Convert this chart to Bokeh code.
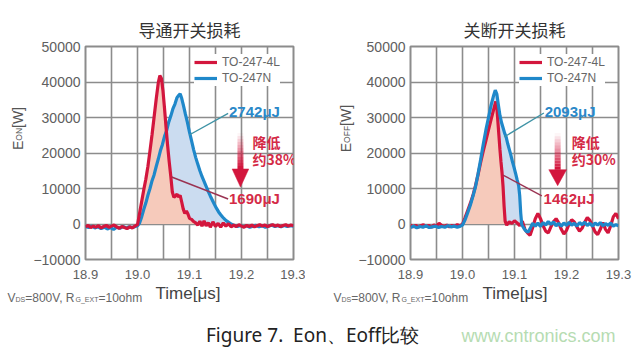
import numpy as np
from math import pi
from bokeh.plotting import figure
from bokeh.models import Range1d, FixedTicker, Legend, LegendItem, Label
from bokeh.layouts import column, row
from bokeh.embed import file_html
from bokeh.resources import INLINE

# ---------------- data ----------------
x_ticks = [18.9, 19.0, 19.1, 19.2, 19.3]
x_tick_labels = ["18.9", "19.0", "19.1", "19.2", "19.3"]
x_grid = [18.9, 18.95, 19.0, 19.05, 19.1, 19.15, 19.2, 19.25, 19.3]
y_ticks = [-10000, 0, 10000, 20000, 30000, 40000, 50000]
y_tick_labels = ["\u221210000", "0", "10000", "20000", "30000", "40000", "50000"]

series_names = ["TO-247-4L", "TO-247N"]

# turn-on, TO-247-4L
on_4l_t = [18.900, 18.905, 18.910, 18.915, 18.920, 18.925, 18.930, 18.935, 18.940, 18.945,
           18.950, 18.955, 18.960, 18.965, 18.970, 18.975, 18.980, 18.985, 18.990, 18.995,
           19.000, 19.004, 19.008, 19.012, 19.016, 19.020, 19.024, 19.028, 19.032, 19.036,
           19.040, 19.043, 19.046, 19.049, 19.052, 19.055, 19.058, 19.061, 19.064, 19.067,
           19.070, 19.073, 19.076, 19.079, 19.082, 19.085, 19.088, 19.091, 19.094, 19.097,
           19.100, 19.104, 19.108, 19.112, 19.116, 19.120, 19.124, 19.128, 19.132, 19.136,
           19.140, 19.145, 19.150, 19.155, 19.160, 19.165, 19.170, 19.175, 19.180, 19.185,
           19.190, 19.195, 19.200, 19.205, 19.210, 19.215, 19.220, 19.225, 19.230, 19.235,
           19.240, 19.245, 19.250, 19.255, 19.260, 19.265, 19.270, 19.275, 19.280, 19.285,
           19.290, 19.295, 19.300]
on_4l_e = [-800, -400, -1000, -600, -900, -500, -1100, -700, -400, -900,
           -600, -300, -800, -1200, -700, -1000, -1300, -800, -1100, -600,
           -200, 3000, 6300, 9600, 12600, 16200, 20600, 25200, 30200, 35200,
           39800, 41800, 41000, 37500, 32500, 27000, 22000, 17500, 13500, 9000,
           7500, 7900, 8400, 7600, 8100, 6200, 4200, 3000, 3700, 2800,
           1600, 1300, 700, 300, -300, 800, -600, 900, -500, 400,
           -900, 600, -700, 200, -900, 300, -600, 100, -800, -300,
           -700, -200, -600, -900, -400, -700, -300, -800, -500, -200,
           -600, -300, -700, -400, -200, -600, -300, -700, -400, -200,
           -600, -300, -500]

# turn-on, TO-247N
on_n_t = [18.900, 18.906, 18.912, 18.918, 18.924, 18.930, 18.936, 18.942, 18.948, 18.954,
          18.960, 18.966, 18.972, 18.978, 18.984, 18.990, 18.996, 19.000, 19.004, 19.008,
          19.012, 19.016, 19.020, 19.024, 19.028, 19.032, 19.036, 19.040, 19.044, 19.048,
          19.052, 19.056, 19.060, 19.064, 19.068, 19.072, 19.076, 19.079, 19.082, 19.085,
          19.088, 19.092, 19.096, 19.100, 19.104, 19.108, 19.112, 19.116, 19.120, 19.124,
          19.128, 19.132, 19.136, 19.140, 19.144, 19.148, 19.152, 19.156, 19.160, 19.164,
          19.168, 19.172, 19.176, 19.180, 19.186, 19.192, 19.198, 19.204, 19.210, 19.216,
          19.222, 19.228, 19.234, 19.240, 19.246, 19.252, 19.258, 19.264, 19.270, 19.276,
          19.282, 19.288, 19.294, 19.300]
on_n_e = [-700, -1000, -600, -1100, -800, -1300, -900, -1400, -1000, -1500,
          -900, -1200, -700, -1100, -800, -1000, -700, -500, 300, 2000,
          4100, 5900, 8100, 10000, 12200, 13900, 16200, 18300, 20600, 22400,
          24700, 26300, 28700, 30400, 32400, 33800, 35600, 36200, 36700, 35400,
          33600, 31000, 28600, 25900, 23400, 20900, 18700, 16800, 15000, 13400,
          12000, 10600, 9200, 7900, 6700, 5500, 4400, 3400, 2600, 1900,
          1300, 800, 400, 0, -400, -700, -400, -800, -500, -900,
          -600, -400, -800, -500, -900, -600, -300, -700, -500, -800,
          -400, -700, -500, -600]

# turn-off, TO-247-4L
off_4l_t = [18.900, 18.905, 18.910, 18.915, 18.920, 18.925, 18.930, 18.935, 18.940, 18.945,
            18.950, 18.955, 18.960, 18.965, 18.970, 18.975, 18.980, 18.985, 18.990, 18.995,
            19.000, 19.005, 19.010, 19.015, 19.020, 19.025, 19.030, 19.035, 19.040, 19.045,
            19.050, 19.055, 19.060, 19.064, 19.066, 19.068, 19.070, 19.072, 19.074, 19.076,
            19.078, 19.080, 19.082, 19.085, 19.090, 19.095, 19.100, 19.105, 19.110, 19.115,
            19.120, 19.125, 19.130, 19.135, 19.140, 19.145, 19.150, 19.155, 19.160, 19.165,
            19.170, 19.175, 19.180, 19.185, 19.190, 19.195, 19.200, 19.205, 19.210, 19.215,
            19.220, 19.225, 19.230, 19.235, 19.240, 19.245, 19.250, 19.255, 19.260, 19.265,
            19.270, 19.275, 19.280, 19.285, 19.290, 19.295, 19.300]
off_4l_e = [-300, -800, -400, -900, -500, -200, -700, -400, -900, -300,
            -600, 200, -400, -700, -300, -800, -400, -600, -200, -500,
            0, 1800, 3800, 5800, 8000, 10800, 14000, 17400, 20600, 23500,
            26500, 29500, 32300, 34500, 33000, 29000, 25000, 21000, 17500, 14500,
            10500, 5000, 800, -300, 600, 200, 900, 300, -500, 800,
            -1500, -2500, -3200, -1000, 1500, 3000, 1500, -500, -2000, -2500,
            -800, 600, 1500, 300, -1500, -2800, -1800, 0, 1200, 600,
            -800, -2000, -1200, 500, 1800, 1000, -600, -2200, -3000, -1500,
            400, -1500, -2500, -500, 2000, 3000, 1500]

# turn-off, TO-247N
off_n_t = [18.900, 18.906, 18.912, 18.918, 18.924, 18.930, 18.936, 18.942, 18.948, 18.954,
           18.960, 18.966, 18.972, 18.978, 18.984, 18.990, 18.996, 19.000, 19.005, 19.010,
           19.015, 19.020, 19.025, 19.030, 19.035, 19.040, 19.045, 19.050, 19.055, 19.060,
           19.063, 19.066, 19.069, 19.072, 19.075, 19.078, 19.081, 19.084, 19.087, 19.090,
           19.093, 19.096, 19.099, 19.102, 19.105, 19.108, 19.110, 19.112, 19.114, 19.118,
           19.122, 19.126, 19.130, 19.135, 19.140, 19.145, 19.150, 19.155, 19.160, 19.165,
           19.170, 19.175, 19.180, 19.185, 19.190, 19.195, 19.200, 19.205, 19.210, 19.215,
           19.220, 19.225, 19.230, 19.235, 19.240, 19.245, 19.250, 19.255, 19.260, 19.265,
           19.270, 19.275, 19.280, 19.285, 19.290, 19.295, 19.300]
off_n_e = [-1000, -600, -1100, -700, -900, -500, -1000, -800, -600, -1000,
           -700, -900, -500, -800, -600, -900, -600, -300, 1200, 3200,
           5300, 7800, 10500, 14200, 18200, 22500, 26500, 30000, 33500, 36300,
           37700, 36600, 33500, 30600, 28600, 27100, 25600, 24500, 22600, 21000,
           19400, 17600, 16000, 14300, 12500, 10800, 8000, 3000, -200, -1200,
           -2000, -2300, -1300, 200, -600, 300, -700, 400, -300, 700,
           -100, 600, -500, 200, -600, 300, -400, 500, -300, 200,
           -600, 400, -200, 500, -400, 200, -600, 300, -300, 400,
           -500, 100, -400, 300, -600, -200, -500]

# shaded energy windows (start, end) in us
on_4l_window = (19.0, 19.112)
on_n_window = (19.0, 19.180)
off_4l_window = (19.0, 19.082)
off_n_window = (19.0, 19.114)

# texts
on_title = "导通开关损耗"
off_title = "关断开关损耗"
on_energy = ["1690\u03bcJ", "2742\u03bcJ"]
off_energy = ["1462\u03bcJ", "2093\u03bcJ"]
on_reduction = ["降低", "约38%"]
off_reduction = ["降低", "约30%"]
x_label = "Time[\u03bcs]"
on_ylabel = ["E", "ON", "[W]"]
off_ylabel = ["E", "OFF", "[W]"]
note_pieces = ["V", "DS", "=800V, R", "G_EXT", "=10ohm"]
caption = "Figure 7.\u00a0 Eon、Eoff比较"
watermark = "www.cntronics.com"

# ---------------- style ----------------
RED = "#d3163d"
BLUE = "#1f88ca"
RED_FILL = "#f6cabb"
BLUE_FILL = "#cbdcf0"
RED_TXT = "#d42a46"
BLUE_TXT = "#2a88c8"
GRID = "#8c8c8c"
TXT = "#555555"
TOP_H = 283


def fill_part(t, e, window):
    t = np.asarray(t)
    e = np.asarray(e, dtype=float)
    m = (t >= window[0]) & (t <= window[1])
    return t[m], np.clip(e[m], 0, None)


def blank(width, height):
    f = figure(width=width, height=height, output_backend="svg", toolbar_location=None,
               x_range=Range1d(0, 1), y_range=Range1d(0, 1), min_border=0,
               x_axis_location=None, y_axis_location=None)
    f.grid.visible = False
    f.outline_line_color = None
    f.background_fill_color = "white"
    f.border_fill_color = "white"
    return f


def make_panel(title, t4, e4, tn, en, w4, wn, energy, reduction, ann, blue_on_top,
               width, left, right):
    p = figure(width=width, height=TOP_H, x_range=Range1d(18.9, 19.3),
               y_range=Range1d(-10000, 50000), output_backend="svg",
               toolbar_location=None, min_border_left=left, min_border_right=right,
               min_border_top=46, min_border_bottom=TOP_H - 259, title=title)
    p.title.align = "center"
    p.title.text_font = "Noto Sans CJK SC"
    p.title.text_font_size = "17px"
    p.title.text_font_style = "normal"
    p.title.text_color = "#333333"
    p.background_fill_color = "white"
    p.border_fill_color = "white"
    p.outline_line_color = GRID
    p.outline_line_width = 2

    p.xaxis.ticker = FixedTicker(ticks=x_ticks)
    p.xaxis.major_label_overrides = dict(zip(x_ticks, x_tick_labels))
    p.yaxis.ticker = FixedTicker(ticks=y_ticks)
    p.yaxis.major_label_overrides = dict(zip(y_ticks, y_tick_labels))
    for ax in (p.xaxis, p.yaxis):
        ax.axis_line_color = None
        ax.major_tick_line_color = None
        ax.minor_tick_line_color = None
        ax.major_tick_out = 0
        ax.major_tick_in = 0
        ax.major_label_text_font = "Liberation Sans"
        ax.major_label_text_color = "#606060"
    p.yaxis.major_label_text_font_size = "14px"
    p.xaxis.major_label_text_font_size = "13px"
    p.yaxis.major_label_standoff = 5
    p.xaxis.major_label_standoff = 10

    p.xgrid.ticker = FixedTicker(ticks=x_grid)
    p.ygrid.ticker = FixedTicker(ticks=y_ticks)
    for g in (p.xgrid, p.ygrid):
        g.grid_line_color = GRID
        g.grid_line_width = 1.6

    ft, fe = fill_part(tn, en, wn)
    p.varea(x=ft, y1=np.zeros(len(ft)), y2=fe, fill_color=BLUE_FILL)
    ft, fe = fill_part(t4, e4, w4)
    p.varea(x=ft, y1=np.zeros(len(ft)), y2=fe, fill_color=RED_FILL)

    if blue_on_top:
        r4 = p.line(t4, e4, line_color=RED, line_width=3.2)
        rn = p.line(tn, en, line_color=BLUE, line_width=3.2)
    else:
        rn = p.line(tn, en, line_color=BLUE, line_width=3.2)
        r4 = p.line(t4, e4, line_color=RED, line_width=3.2)

    bl, rl = ann["blue_lead"], ann["red_lead"]
    p.segment(x0=[bl[0]], y0=[bl[1]], x1=[bl[2]], y1=[bl[3]],
              line_color="#3f93a6", line_width=1.4)
    p.segment(x0=[rl[0]], y0=[rl[1]], x1=[rl[2]], y1=[rl[3]],
              line_color="#9a3352", line_width=1.4)
    p.add_layout(Label(x=ann["blue_txt"][0], y=ann["blue_txt"][1], text=energy[1],
                       text_color=BLUE_TXT, text_font="Liberation Sans",
                       text_font_style="bold", text_font_size="15px",
                       text_baseline="middle", text_align="left"))
    p.add_layout(Label(x=ann["red_txt"][0], y=ann["red_txt"][1], text=energy[0],
                       text_color=RED_TXT, text_font="Liberation Sans",
                       text_font_style="bold", text_font_size="15px",
                       text_baseline="middle", text_align="left"))
    for txt, yy in zip(reduction, ann["red_y"]):
        p.add_layout(Label(x=ann["red_x"], y=yy, text=txt, text_color=RED_TXT,
                           text_font="Noto Sans CJK SC", text_font_style="bold",
                           text_font_size="14px", text_baseline="middle",
                           text_align="left"))

    ax_, top, head_top, tip, hw = ann["arrow"]
    n = 12
    ys = np.linspace(top, head_top, n + 1)
    p.segment(x0=[ax_] * n, y0=ys[:-1], x1=[ax_] * n, y1=ys[1:],
              line_color=RED, line_width=6,
              line_alpha=np.linspace(0.04, 1.0, n).tolist(), line_cap="butt")
    p.patch(x=[ax_ - hw, ax_ + hw, ax_], y=[head_top, head_top, tip], fill_color=RED,
            line_color=RED, line_width=0.5)

    legend = Legend(items=[LegendItem(label=series_names[0], renderers=[r4]),
                           LegendItem(label=series_names[1], renderers=[rn])],
                    location=(109, 173), padding=4, spacing=0, glyph_width=23,
                    glyph_height=16, label_height=16, label_standoff=5, margin=0,
                    label_text_font="Liberation Sans", label_text_font_size="12px",
                    label_text_color="#666666", border_line_color=None,
                    background_fill_color="white", background_fill_alpha=1.0)
    p.add_layout(legend)
    return p


def add_ylabel(f, pieces, bx, by):
    sub_w = {"ON": 12.7, "OFF": 17.0}[pieces[1]]
    specs = [(pieces[0], "14px", bx, by),
             (pieces[1], "8.5px", bx + 1, by + 9.3),
             (pieces[2], "14px", bx, by + 9.3 + sub_w)]
    for txt, fs, x, y in specs:
        f.add_layout(Label(x=x, y=y, x_units="screen", y_units="screen", text=txt,
                           angle=pi / 2, text_align="left", text_baseline="alphabetic",
                           text_font="Liberation Sans", text_font_size=fs,
                           text_color=TXT))


ann_on = dict(blue_txt=(19.176, 31800), red_txt=(19.176, 7300),
              blue_lead=(19.1743, 31180, 19.0994, 25070),
              red_lead=(19.1743, 7040, 19.0657, 13240),
              red_x=19.221, red_y=[23100, 18170],
              arrow=(19.198, 25600, 15500, 10400, 0.016))
ann_off = dict(blue_txt=(19.158, 31700), red_txt=(19.156, 7100),
               blue_lead=(19.1565, 31270, 19.080, 24500),
               red_lead=(19.1526, 7890, 19.078, 13800),
               red_x=19.210, red_y=[23100, 18170],
               arrow=(19.183, 25600, 15300, 10800, 0.017))

# column widths: g1 | p1 | g2 | p2  (0-30 | 30-305 | 305-355 | 355-640)
g1 = blank(30, TOP_H)
add_ylabel(g1, on_ylabel, 17, TOP_H - 173.5)
p1 = make_panel(on_title, on_4l_t, on_4l_e, on_n_t, on_n_e, on_4l_window, on_n_window,
                on_energy, on_reduction, ann_on, False, 275, 52, 12)
g2 = blank(50, TOP_H)
add_ylabel(g2, off_ylabel, 40, TOP_H - 175.7)
p2 = make_panel(off_title, off_4l_t, off_4l_e, off_n_t, off_n_e, off_4l_window,
                off_n_window, off_energy, off_reduction, ann_off, True, 285, 54, 22)

BOT_H = 351 - TOP_H
p3 = blank(640, BOT_H)
for x0 in (7, 333):
    specs = [(note_pieces[0], 12, 0, 0), (note_pieces[1], 7, 8.0, -2),
             (note_pieces[2], 12, 17.7, 0), (note_pieces[3], 7, 68.0, -2),
             (note_pieces[4], 12, 91.0, 0)]
    for txt, fs, dx, dy in specs:
        p3.add_layout(Label(x=x0 + dx, y=BOT_H - 297 + TOP_H + dy, x_units="screen",
                            y_units="screen", text=txt, text_font="Liberation Sans",
                            text_font_size=f"{fs}px", text_color="#666666",
                            text_align="left", text_baseline="alphabetic"))
for xc in (187.5, 514.5):
    p3.add_layout(Label(x=xc, y=BOT_H - 293 + TOP_H, x_units="screen", y_units="screen",
                        text=x_label, text_font="Liberation Sans", text_font_size="17px",
                        text_color="#444444", text_align="center", text_baseline="middle"))
p3.add_layout(Label(x=312, y=17, x_units="screen", y_units="screen", text=caption,
                    text_font="Noto Sans", text_font_size="19px", text_color="#222222",
                    text_align="center", text_baseline="middle"))
p3.add_layout(Label(x=538, y=16, x_units="screen", y_units="screen", text=watermark,
                    text_font="Liberation Sans", text_font_size="18px",
                    text_color="#b6dcb2", text_align="center", text_baseline="middle"))

layout = column(row(g1, p1, g2, p2, spacing=0), p3, spacing=0)
open("out.html", "w").write(file_html(layout, INLINE))
